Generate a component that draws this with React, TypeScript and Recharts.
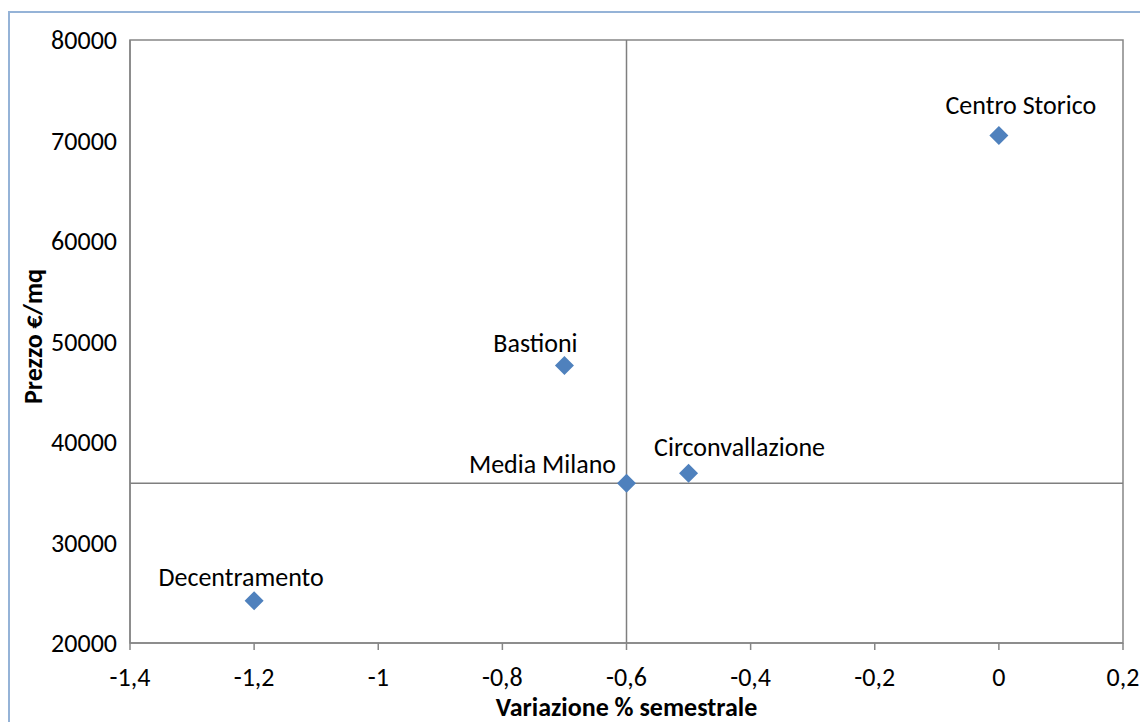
import React from 'react';
import {
  ScatterChart,
  Scatter,
  XAxis,
  YAxis,
  ReferenceLine,
  ReferenceArea,
  Label,
} from 'recharts';

const zoneNames = ['Centro Storico', 'Bastioni', 'Media Milano', 'Circonvallazione', 'Decentramento'];
const variationValues = [0, -0.7, -0.6, -0.5, -1.2];
const priceValues = [70500, 47600, 35900, 36900, 24200];
const xTicks = [-1.4, -1.2, -1, -0.8, -0.6, -0.4, -0.2, 0, 0.2];
const yTicks = [20000, 30000, 40000, 50000, 60000, 70000, 80000];
const meanVariation = -0.6;
const meanPrice = 35900;

const data = zoneNames.map((name, i) => ({ name, x: variationValues[i], y: priceValues[i] }));

const labelOffsets: Record<string, [number, number]> = {
  'Centro Storico': [22, -30],
  Bastioni: [-29, -23],
  'Media Milano': [-84, -19],
  Circonvallazione: [51, -26],
  Decentramento: [-13, -24],
};

const FONT = "Carlito, Calibri, 'Open Sans', sans-serif";
const AXIS_GRAY = '#868686';

const fmt = (v: number) => Number(v.toFixed(1)).toString().replace('.', ',');

const DiamondShape = (props: any) => {
  const { cx, cy, payload } = props;
  const r = 9.5;
  const off = labelOffsets[payload.name] || [0, -25];
  return (
    <g>
      <polygon
        points={`${cx},${cy - r} ${cx + r},${cy} ${cx},${cy + r} ${cx - r},${cy}`}
        fill="#4f81bd"
      />
      <text
        x={cx + off[0]}
        y={cy + off[1]}
        textAnchor="middle"
        dominantBaseline="central"
        fontFamily={FONT}
        fontSize={26}
        fill="#000"
      >
        {payload.name}
      </text>
    </g>
  );
};

const YTitle = (props: any) => {
  const vb = props.viewBox || {};
  const cx = 33;
  const cy = (vb.y ?? 40) + (vb.height ?? 603) / 2 - 5;
  return (
    <text
      x={cx}
      y={cy}
      transform={`rotate(-90, ${cx}, ${cy})`}
      textAnchor="middle"
      dominantBaseline="central"
      fontFamily={FONT}
      fontSize={26}
      fontWeight="bold"
      fill="#000"
    >
      Prezzo €/mq
    </text>
  );
};

export default function App() {
  return (
    <div style={{ position: 'absolute', left: 0, top: 0, width: 1140, height: 722, overflow: 'hidden', background: '#fff' }}>
      <div
        style={{
          position: 'absolute',
          left: 8,
          top: 11,
          width: 1200,
          height: 800,
          border: '2px solid #95b3d7',
          boxSizing: 'border-box',
        }}
      />
      <div style={{ position: 'absolute', left: 0, top: 0 }}>
        <ScatterChart width={1140} height={722} margin={{ top: 40, right: 17, bottom: 0, left: 0 }}>
          <ReferenceArea
            x1={-1.4}
            x2={0.2}
            y1={20000}
            y2={80000}
            fill="none"
            stroke={AXIS_GRAY}
            strokeWidth={1.5}
            ifOverflow="visible"
          />
          <XAxis
            type="number"
            dataKey="x"
            domain={[-1.4, 0.2]}
            ticks={xTicks}
            tickFormatter={fmt}
            allowDataOverflow
            height={79}
            stroke={AXIS_GRAY}
            strokeWidth={1.5}
            tickSize={7}
            tickMargin={18}
            tick={{ fill: '#000', fontSize: 26, fontFamily: FONT }}
          >
            <Label
              value="Variazione % semestrale"
              position="insideBottom"
              offset={6}
              style={{ fontFamily: FONT, fontSize: 26, fontWeight: 'bold', fill: '#000' }}
            />
          </XAxis>
          <YAxis
            type="number"
            dataKey="y"
            domain={[20000, 80000]}
            ticks={yTicks}
            allowDataOverflow
            width={130}
            stroke={AXIS_GRAY}
            strokeWidth={1.5}
            tickLine={false}
            tickSize={0}
            tickMargin={13}
            tick={{ fill: '#000', fontSize: 26, fontFamily: FONT }}
          >
            <Label content={YTitle} />
          </YAxis>
          <ReferenceLine x={meanVariation} stroke="#7f7f7f" strokeWidth={1.5} />
          <ReferenceLine y={meanPrice} stroke="#7f7f7f" strokeWidth={1.5} />
          <Scatter data={data} shape={DiamondShape} isAnimationActive={false} />
        </ScatterChart>
      </div>
    </div>
  );
}
